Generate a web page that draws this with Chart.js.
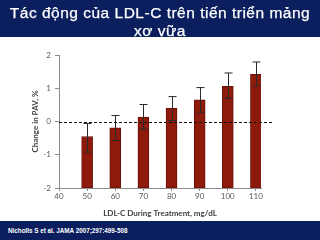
<!DOCTYPE html>
<html><head><meta charset="utf-8">
<script src="https://cdn.jsdelivr.net/npm/chart.js@4/dist/chart.umd.min.js"></script>
<style>
html,body{margin:0;padding:0;width:320px;height:240px;overflow:hidden;background:#fff;}
#title{position:absolute;left:0;top:0;width:320px;height:37px;background:#0b1f5e;color:#fff;
 font-family:"Liberation Sans",Arial,sans-serif;font-size:15.5px;line-height:18px;text-align:center;padding-top:4px;box-sizing:border-box;letter-spacing:0.5px;white-space:nowrap;-webkit-text-stroke:0.25px #fff;}
#foot{position:absolute;left:0;top:221px;width:320px;height:19px;background:#0b1f5e;color:#fff;
 font-family:"Liberation Sans",Arial,sans-serif;font-size:6.3px;font-weight:bold;line-height:19px;padding-left:8px;box-sizing:border-box;}
#wrap{position:absolute;left:0;top:0;width:320px;height:240px;}
</style></head>
<body>
<div id="wrap"><canvas id="c" width="320" height="240"></canvas></div>
<div id="title">Tác động của LDL-C trên tiến triển mảng<br>xơ vữa</div>
<div id="foot">Nicholls S et al. JAMA 2007;297:499-508</div>
<script>
const ldl = [50, 60, 70, 80, 90, 100, 110];
const changePAV = [-0.45, -0.19, 0.13, 0.40, 0.65, 1.06, 1.42];
const errUpper = [-0.06, 0.18, 0.51, 0.75, 1.02, 1.46, 1.79];
const errLower = [-0.92, -0.57, -0.24, 0.03, 0.28, 0.70, 1.07];
const xTickLabels = [40, 50, 60, 70, 80, 90, 100, 110];
const yTickLabels = [-2, -1, 0, 1, 2];
const referenceValue = 0;
const xTitle = 'LDL-C During Treatment, mg/dL';
const yTitle = 'Change in PAV, %';

const Y_MIN = yTickLabels[0], Y_MAX = yTickLabels[yTickLabels.length - 1];
const X_MIN = xTickLabels[0], X_MAX = 111.8;

const extras = {
  id: 'extras',
  afterDatasetsDraw(chart) {
    const ctx = chart.ctx, xs = chart.scales.x, ys = chart.scales.y, a = chart.chartArea;
    ctx.save();
    ctx.strokeStyle = '#2a2a2a'; ctx.lineWidth = 1;
    ldl.forEach((v, i) => {
      const px = Math.round(xs.getPixelForValue(v)) + 0.5;
      const t = ys.getPixelForValue(errUpper[i]), b = ys.getPixelForValue(errLower[i]);
      ctx.beginPath();
      ctx.moveTo(px, t); ctx.lineTo(px, b);
      ctx.moveTo(px - 4, t); ctx.lineTo(px + 4, t);
      ctx.moveTo(px - 4, b); ctx.lineTo(px + 4, b);
      ctx.stroke();
    });
    const y0 = Math.round(ys.getPixelForValue(referenceValue)) + 0.5;
    ctx.strokeStyle = '#111'; ctx.lineWidth = 1.2; ctx.setLineDash([3, 2]);
    ctx.beginPath(); ctx.moveTo(a.left, y0); ctx.lineTo(a.right + 11, y0); ctx.stroke();
    ctx.restore();
  }
};

new Chart(document.getElementById('c'), {
  type: 'bar',
  data: {
    datasets: [{
      data: ldl.map((x, i) => ({ x: x, y: [Y_MIN, changePAV[i]] })),
      backgroundColor: '#8e1a0c',
      borderColor: '#6a1208',
      borderWidth: 1,
      borderSkipped: false,
      barThickness: 11
    }]
  },
  options: {
    responsive: false,
    animation: false,
    devicePixelRatio: 1,
    layout: { padding: { top: 55, right: 59, bottom: 18, left: 31 } },
    plugins: { legend: { display: false }, tooltip: { enabled: false } },
    scales: {
      x: {
        type: 'linear', min: X_MIN, max: X_MAX, offset: false,
        afterBuildTicks: s => { s.ticks = xTickLabels.map(v => ({ value: v })); },
        afterFit: s => { s.height = 34; },
        grid: { display: true, drawOnChartArea: false, offset: false, tickLength: 3, color: '#8c8c8c' },
        border: { color: '#8c8c8c', width: 1 },
        ticks: { color: '#595959', font: { family: 'Lato', size: 8 }, padding: 1, maxRotation: 0 },
        title: { display: true, text: xTitle, color: '#404040', font: { family: 'Lato', size: 8, weight: 'bold' }, padding: { top: 2 } }
      },
      y: {
        min: Y_MIN, max: Y_MAX,
        afterBuildTicks: s => { s.ticks = yTickLabels.map(v => ({ value: v })); },
        afterFit: s => { s.width = 28; },
        grid: { display: true, drawOnChartArea: false, tickLength: 4, color: '#8c8c8c' },
        border: { color: '#8c8c8c', width: 1 },
        ticks: { color: '#595959', font: { family: 'Lato', size: 8 }, padding: 4 },
        title: { display: true, text: yTitle, color: '#404040', font: { family: 'Lato', size: 8, weight: 'bold' }, padding: { top: 0, bottom: 2 } }
      }
    }
  },
  plugins: [extras]
});
</script>
</body></html>
